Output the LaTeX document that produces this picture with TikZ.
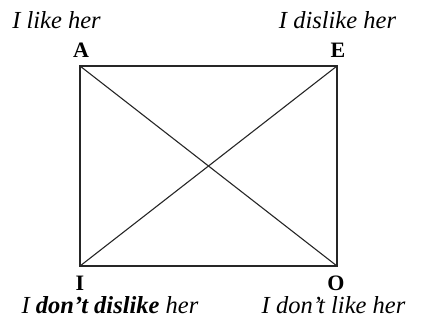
\documentclass[tikz,border=0pt]{standalone}
\usepackage{fontspec}
\setmainfont{Liberation Serif}
\usetikzlibrary{positioning}
\tikzset{
  side/.style={line width=1.1pt,draw=black!85},
  phrase/.style={font=\fontsize{24.5}{28}\selectfont\itshape,anchor=base,inner sep=0pt},
  corner/.style={font=\fontsize{22}{26}\selectfont\bfseries,anchor=base,inner sep=0pt}
}
\begin{document}
\begin{tikzpicture}[x=1pt,y=-1pt]
  \useasboundingbox (0,0) rectangle (422,324);

  % Corners of the square.
  \coordinate (A) at (80,66);
  \coordinate (E) at (337,66);
  \coordinate (I) at (80,266);
  \coordinate (O) at (337,266);

  \draw[side] (A) -- (E) -- (O) -- (I) -- cycle;
  \draw[side] (A) -- (O);
  \draw[side] (E) -- (I);

  % Corner letters.
  \node[corner] (la) at (81,57) {A};
  \node[corner] (le) at (338,57) {E};
  \node[corner] (li) at (80,290) {I};
  \node[corner] (lo) at (336,290) {O};

  % Sentences.
  \node[phrase] (like) at (56.5,28) {I like her};
  \node[phrase] (dislike) at (337.5,28) {I dislike her};
  \node[phrase] (notdislike) at (110,313) {I \textbf{don’t dislike} her};
  \node[phrase] (notlike) at (333.5,313) {I don’t like her};
\end{tikzpicture}
\end{document}
